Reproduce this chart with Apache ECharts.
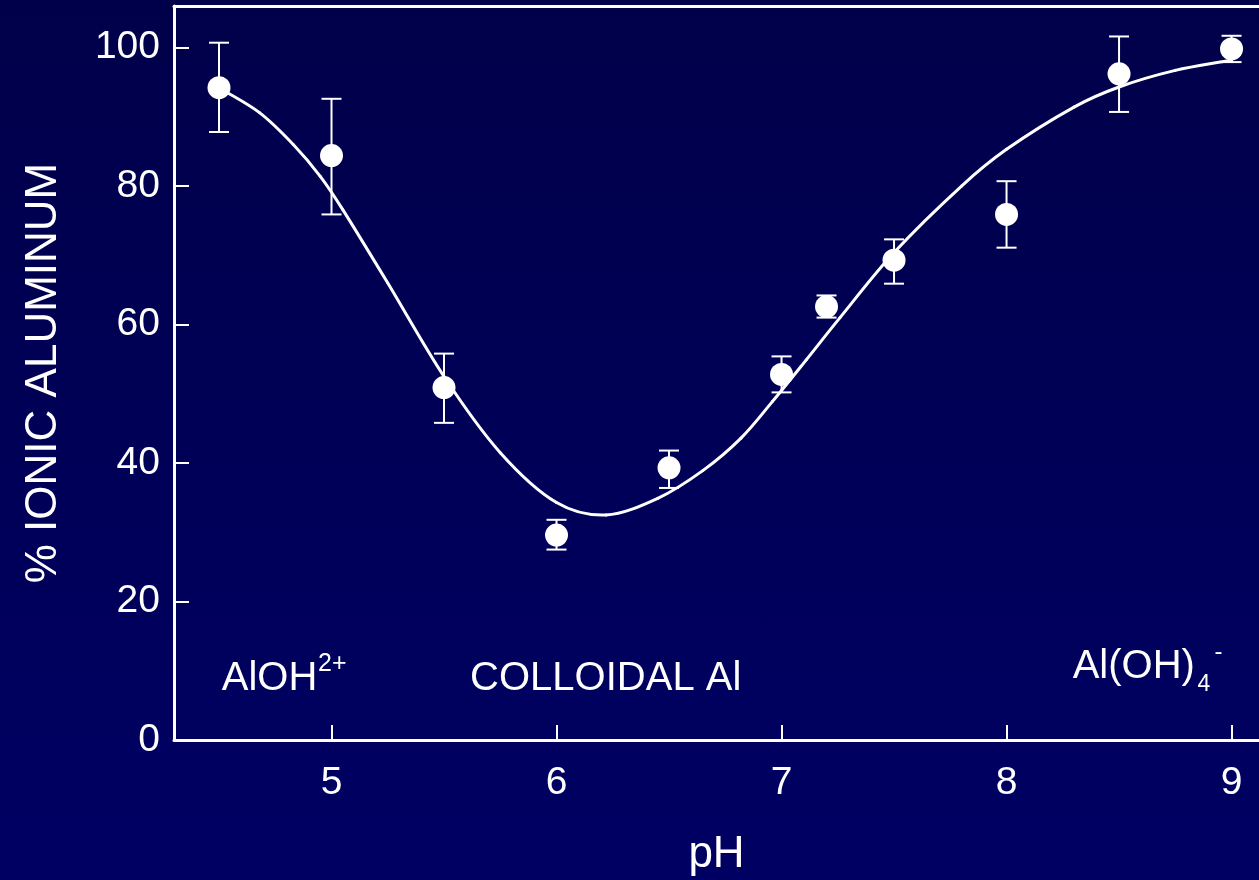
<!DOCTYPE html>
<html>
<head>
<meta charset="utf-8">
<script src="https://cdn.jsdelivr.net/npm/echarts@6/dist/echarts.min.js"></script>
<style>
html,body{margin:0;padding:0;width:1259px;height:880px;overflow:hidden;background:linear-gradient(to bottom,#00004a,#000064);}
#chart{width:1259px;height:880px;}
</style>
</head>
<body>
<div id="chart"></div>
<script>
// measured points (pH, % ionic aluminum) with error bar limits
const phValues  = [4.5, 5.0, 5.5, 6.0, 6.5, 7.0, 7.2, 7.5, 8.0, 8.5, 9.0];
const ionicMean = [94.2, 84.4, 50.9, 29.6, 39.3, 52.8, 62.6, 69.3, 75.9, 96.2, 99.8];
const errLow    = [87.8, 75.9, 45.8, 27.5, 36.4, 50.2, 61.0, 65.9, 71.1, 90.7, 97.9];
const errHigh   = [100.7, 92.6, 55.8, 31.8, 41.8, 55.4, 64.2, 72.3, 80.7, 101.6, 101.7];
// fitted curve
const fitPH  = [4.5, 4.68, 4.83, 4.95, 5.05, 5.25, 5.5, 5.75, 6.0, 6.22, 6.45, 6.65, 6.82, 6.96, 7.11, 7.26, 7.5, 7.8, 8.0, 8.3, 8.5, 8.75, 9.0];
const fitPct = [94.2, 90.6, 86.0, 81.4, 76.6, 66.0, 52.5, 41.5, 34.3, 32.5, 34.9, 38.9, 43.6, 48.9, 54.9, 61.0, 70.4, 80.0, 85.3, 91.4, 94.3, 96.7, 98.2];
// tick labels
const xTicks = [5, 6, 7, 8, 9];
const yTicks = [0, 20, 40, 60, 80, 100];
// annotations
const annoText = ['AlOH', '2+', 'COLLOIDAL Al', 'Al(OH)', '4', '-'];
const annoX    = [4.512, 4.94, 5.616, 8.294, 8.849, 8.924];
const annoY    = [8.82, 11.0, 8.82, 10.56, 7.95, 12.7];
const annoSize = [40, 25, 40, 40, 23, 24];

const FONT = '"Liberation Sans", Arial, sans-serif';
const chart = echarts.init(document.getElementById('chart'));

// smooth curve through fit points (Catmull-Rom segments drawn as cubic beziers)
function fitSegment(params, api) {
  const i = params.dataIndex;
  const n = fitPH.length;
  if (i >= n - 1) return null;
  const P = k => api.coord([fitPH[k], fitPct[k]]);
  const p1 = P(i), p2 = P(i + 1);
  const p0 = i > 0 ? P(i - 1) : [2 * p1[0] - p2[0], 2 * p1[1] - p2[1]];
  const p3 = i + 2 < n ? P(i + 2) : [2 * p2[0] - p1[0], 2 * p2[1] - p1[1]];
  return {
    type: 'bezierCurve',
    shape: {
      x1: p1[0], y1: p1[1], x2: p2[0], y2: p2[1],
      cpx1: p1[0] + (p2[0] - p0[0]) / 6, cpy1: p1[1] + (p2[1] - p0[1]) / 6,
      cpx2: p2[0] - (p3[0] - p1[0]) / 6, cpy2: p2[1] - (p3[1] - p1[1]) / 6
    },
    style: { stroke: '#fff', lineWidth: 3, fill: null, lineCap: 'round' }
  };
}

const option = {
  backgroundColor: 'transparent',
  animation: false,
  grid: { left: 174, top: 6, bottom: 140, right: 0, outerBoundsMode: 'none', containLabel: false },
  xAxis: [{
    type: 'value', min: 4.3, max: 9.122, position: 'bottom',
    name: 'pH', nameLocation: 'middle', nameGap: 93,
    nameTextStyle: { color: '#fff', fontSize: 44, fontFamily: FONT },
    axisLine: { show: true, onZero: false, lineStyle: { color: '#fff', width: 3 } },
    axisTick: { show: true, inside: true, length: 15, customValues: xTicks, lineStyle: { color: '#fff', width: 2 } },
    axisLabel: { show: true, customValues: xTicks, margin: 24, color: '#fff', fontSize: 39, fontFamily: FONT },
    splitLine: { show: false }
  }, {
    type: 'value', min: 4.3, max: 9.122, position: 'top',
    axisLine: { show: true, onZero: false, lineStyle: { color: '#fff', width: 3 } },
    axisTick: { show: false }, axisLabel: { show: false }, splitLine: { show: false }
  }],
  yAxis: [{
    type: 'value', min: 0, max: 106,
    name: '% IONIC ALUMINUM', nameLocation: 'middle', nameGap: 108,
    nameTextStyle: { color: '#fff', fontSize: 44, fontFamily: FONT },
    axisLine: { show: true, onZero: false, lineStyle: { color: '#fff', width: 3 } },
    axisTick: { show: true, inside: true, length: 15, customValues: yTicks, lineStyle: { color: '#fff', width: 2 } },
    axisLabel: { show: true, customValues: yTicks, margin: 14, color: '#fff', fontSize: 39, fontFamily: FONT },
    splitLine: { show: false }
  }],
  series: [
    {
      type: 'custom', name: 'error',
      data: phValues.map((x, i) => [x, errLow[i], errHigh[i]]),
      renderItem: function (params, api) {
        const lo = api.coord([api.value(0), api.value(1)]);
        const hi = api.coord([api.value(0), api.value(2)]);
        const hw = 10;
        const st = { stroke: '#fff', lineWidth: 2 };
        return { type: 'group', children: [
          { type: 'line', shape: { x1: lo[0], y1: lo[1], x2: hi[0], y2: hi[1] }, style: st },
          { type: 'line', shape: { x1: lo[0] - hw, y1: lo[1], x2: lo[0] + hw, y2: lo[1] }, style: st },
          { type: 'line', shape: { x1: hi[0] - hw, y1: hi[1], x2: hi[0] + hw, y2: hi[1] }, style: st }
        ]};
      },
      encode: { x: 0, y: [1, 2] }, z: 2
    },
    {
      type: 'custom', name: 'fit',
      data: fitPH.map((x, i) => [x, fitPct[i]]),
      renderItem: fitSegment,
      encode: { x: 0, y: 1 }, z: 3
    },
    {
      type: 'scatter', name: 'measured', symbol: 'circle', symbolSize: 23,
      data: phValues.map((x, i) => [x, ionicMean[i]]),
      itemStyle: { color: '#fff', opacity: 1 }, z: 4
    }
  ]
};
chart.setOption(option);

function placeAnnotations() {
  const g = annoText.map((t, i) => {
    const p = chart.convertToPixel({ gridIndex: 0 }, [annoX[i], annoY[i]]);
    return {
      type: 'text', x: p[0], y: p[1], z: 10, silent: true,
      style: { text: t, fill: '#fff', fontSize: annoSize[i], fontFamily: FONT, align: 'left', verticalAlign: 'middle' }
    };
  });
  chart.setOption({ graphic: g });
}
placeAnnotations();
</script>
</body>
</html>
